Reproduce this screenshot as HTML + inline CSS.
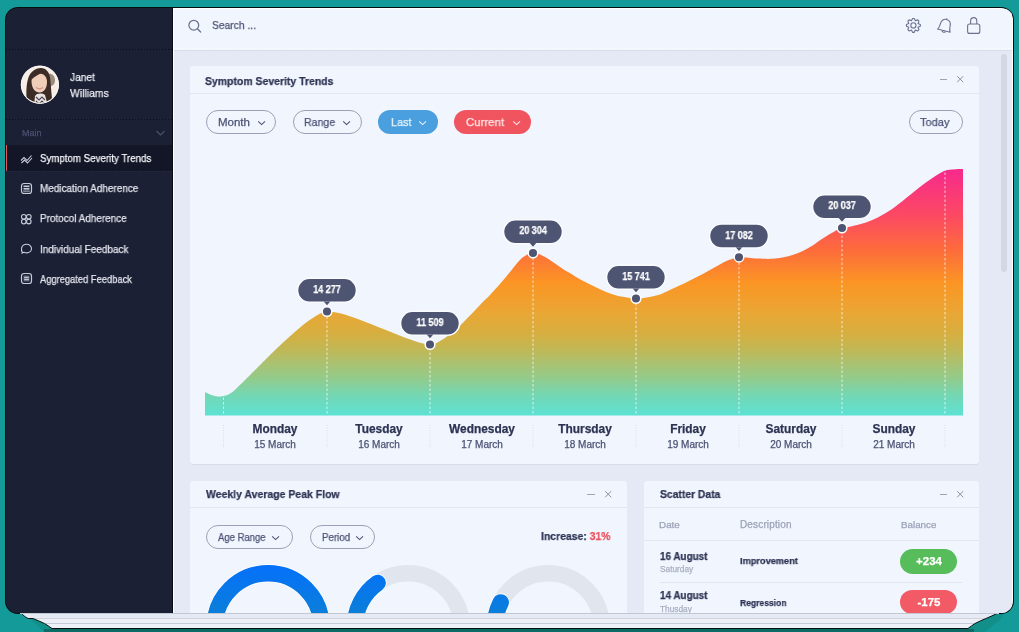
<!DOCTYPE html>
<html><head><meta charset="utf-8"><style>
*{margin:0;padding:0;box-sizing:border-box}
html,body{width:1019px;height:632px;overflow:hidden}
body{background:#149a99;position:relative;font-family:"Liberation Sans",sans-serif}
.t{position:absolute;white-space:nowrap;line-height:1;will-change:transform;-webkit-text-stroke:0.25px currentColor}
.a{position:absolute}
</style></head>
<body>
<svg class="a" style="left:0;top:0" width="1019" height="632"><path d="M22,612 L40,628 L44,632 L985,632 L1000,620 L1005,612 Z" fill="#138f8a"/><rect x="44" y="629" width="930" height="3" fill="#0d6b66"/></svg><svg class="a" style="left:0;top:0" width="1019" height="632"><defs><clipPath id="shc"><path d="M18,606 L18,608 C19,611 20,613 21,613 C23,615 25,617 28,618.5 L33,618.5 C37,620 41,622 44.5,623.5 C47,625 49.5,626.7 52,628.5 L968,628.5 C970.5,626.7 972.5,625 975,623.5 C978.5,621.8 982,620 986,618.5 C990,616.8 994,615 998,613 L1000,606 Z"/></clipPath></defs><g clip-path="url(#shc)"><rect x="0" y="600" width="1019" height="19" fill="#e6eaf4"/><rect x="0" y="618.5" width="1019" height="5" fill="#eceff7"/><rect x="0" y="623.5" width="1019" height="5" fill="#eef1f8"/><rect x="0" y="613" width="1019" height="1" fill="#c3c7d3"/><rect x="0" y="618" width="1019" height="1" fill="#d6d3d6"/><rect x="0" y="623" width="1019" height="1" fill="#c6cad6"/></g><path d="M18,606 L18,608 C19,611 20,613 21,613 C23,615 25,617 28,618.5 L33,618.5 C37,620 41,622 44.5,623.5 C47,625 49.5,626.7 52,628.5 L968,628.5 C970.5,626.7 972.5,625 975,623.5 C978.5,621.8 982,620 986,618.5 C990,616.8 994,615 998,613 L1000,606 Z" fill="none" stroke="#061212" stroke-width="1"/></svg><div class="a" style="left:5px;top:7px;width:1009px;height:607px;border-radius:13px;background:#050f10;overflow:hidden"></div><div class="a" style="left:6px;top:8px;width:1007px;height:605px;border-radius:12px;overflow:hidden"><div class="a" style="left:-6px;top:-8px;width:1019px;height:632px"><div class="a" style="left:173px;top:8px;width:840px;height:606px;background:#ffffff"></div><div class="a" style="left:174px;top:9px;width:838px;height:605px;background:#e4e9f5"></div><div class="a" style="left:174px;top:9px;width:838px;height:42px;background:#f0f5fe;border-bottom:1px solid #d8dde8"></div><div class="a" style="left:174px;top:48px;width:838px;height:1px;background:repeating-linear-gradient(90deg,#ffffff 0 1.5px,transparent 1.5px 3px)"></div><div class="a" style="left:6px;top:8px;width:166.5px;height:606px;background:#1c2034;border-right:1.5px solid #080a14"></div><div class="a" style="left:6px;top:49px;width:166px;height:1px;background:repeating-linear-gradient(90deg,#0b0e18 0 1.5px,transparent 1.5px 3px)"></div><div class="a" style="left:6px;top:119px;width:166px;height:1px;background:repeating-linear-gradient(90deg,#0b0e18 0 1.5px,transparent 1.5px 3px)"></div><div class="a" style="left:6px;top:145px;width:166px;height:26px;background:#131627"></div><div class="a" style="left:6px;top:171px;width:166px;height:1px;background:repeating-linear-gradient(90deg,#2a2f45 0 1.5px,transparent 1.5px 3px)"></div><div class="a" style="left:5px;top:145px;width:2px;height:26px;background:#e8525a"></div><svg class="a" style="left:18px;top:63px" width="44" height="44" viewBox="18 63 44 44">
<defs><clipPath id="av"><circle cx="39.9" cy="84.7" r="18.3"/></clipPath></defs>
<circle cx="39.9" cy="84.7" r="19" fill="#f8f3ee"/>
<g clip-path="url(#av)">
<rect x="18" y="63" width="44" height="44" fill="#f7efe7"/>
<path d="M48,74 C52,73 55,76 55,80 C55,84 53,86 50,86 Z" fill="#9c8c7c"/>
<path d="M27,106 C26,95 26,86 28,79 C30,72 35,68 41,68 C46,68 49,72 50,77 C51,84 51,92 53,106 Z" fill="#3d2b25"/>
<path d="M31.5,81 C31.5,76 35,73.5 39.5,73.5 C44,73.5 47,77 47,82 C47,88 44,92.5 39.5,92.5 C35,92.5 31.5,88 31.5,81 Z" fill="#f0cdb8"/>
<path d="M31,80 C32,74 37,71 43,72 C40,74 35,76 31,80 Z" fill="#3d2b25"/>
<path d="M34,106 L35,96 C37,93 42,93 45,95 L48,106 Z" fill="#e9e4e2"/>
<path d="M36,97 L39,100 L42,97 L45,100 M36,101 L39,104 L42,101 L45,104" stroke="#4b4450" stroke-width="1.1" fill="none"/>
<path d="M36,87.5 C38,89 41,89 43,87.5" stroke="#d98f8a" stroke-width="1.3" fill="none"/>
</g>
<circle cx="39.9" cy="84.7" r="18.6" fill="none" stroke="#f9f5f2" stroke-width="1"/>
</svg><div class="t" style="left:70.4px;top:72.00px;font-size:11.3px;color:#eceef4;transform:scaleX(0.9);transform-origin:0 0;">Janet</div>
<div class="t" style="left:70.4px;top:88.00px;font-size:11.3px;color:#eceef4;transform:scaleX(0.92);transform-origin:0 0;">Williams</div>
<div class="t" style="left:21.7px;top:129.00px;font-size:9px;color:#4b5070;">Main</div>
<svg class="a" style="left:155px;top:129px" width="11" height="8"><path d="M1.5,2 L5.5,6 L9.5,2" stroke="#4b5070" stroke-width="1.1" fill="none"/></svg><div class="t" style="left:40.0px;top:153.00px;font-size:10.8px;color:#f6f7fb;transform:scaleX(0.9);transform-origin:0 0;">Symptom Severity Trends</div>
<div class="t" style="left:40.0px;top:183.00px;font-size:10.8px;color:#e4e6ee;transform:scaleX(0.92);transform-origin:0 0;">Medication Adherence</div>
<div class="t" style="left:40.0px;top:213.00px;font-size:10.8px;color:#e4e6ee;transform:scaleX(0.92);transform-origin:0 0;">Protocol Adherence</div>
<div class="t" style="left:40.0px;top:244.00px;font-size:10.8px;color:#e4e6ee;transform:scaleX(0.92);transform-origin:0 0;">Individual Feedback</div>
<div class="t" style="left:40.0px;top:274.00px;font-size:10.8px;color:#e4e6ee;transform:scaleX(0.865);transform-origin:0 0;">Aggregated Feedback</div>
<svg class="a" style="left:20px;top:153px" width="13" height="11"><path d="M1,7.5 L4,4.5 L7,7.5 L11.5,2.5" stroke="#c9ccd8" stroke-width="1.1" fill="none"/><path d="M1.5,10 L4.5,7 L7.5,10 L12,5" stroke="#c9ccd8" stroke-width="1.1" fill="none"/></svg><svg class="a" style="left:20px;top:182px" width="13" height="13"><rect x="1.5" y="1.5" width="10" height="10" rx="2.5" fill="none" stroke="#c9ccd8" stroke-width="1.2"/><rect x="3.5" y="3.5" width="6" height="1.6" fill="#c9ccd8"/><rect x="3.5" y="6" width="6" height="1.6" fill="#c9ccd8"/><rect x="3.2" y="8.3" width="6.6" height="2" fill="#7b7f94"/></svg><svg class="a" style="left:20px;top:213px" width="13" height="12"><circle cx="3.8" cy="3.8" r="2.3" fill="none" stroke="#c9ccd8" stroke-width="1.1"/><circle cx="8.8" cy="3.8" r="2.3" fill="none" stroke="#c9ccd8" stroke-width="1.1"/><circle cx="3.8" cy="8.6" r="2.3" fill="none" stroke="#c9ccd8" stroke-width="1.1"/><circle cx="8.8" cy="8.6" r="2.3" fill="none" stroke="#c9ccd8" stroke-width="1.1"/></svg><svg class="a" style="left:20px;top:243px" width="13" height="12"><path d="M2.6,9.8 C1.4,8.5 1.3,6.5 1.6,5 C2.2,2.7 4.4,1.3 6.7,1.3 C9.4,1.3 11.5,3.3 11.5,5.6 C11.5,8 9.3,9.9 6.7,9.9 C5.7,9.9 4.8,9.7 4,9.3 L1.8,10.3 Z" fill="none" stroke="#c9ccd8" stroke-width="1.1" stroke-linejoin="round"/></svg><svg class="a" style="left:20px;top:272px" width="13" height="13"><rect x="1.5" y="1.5" width="10" height="10" rx="2.5" fill="none" stroke="#c9ccd8" stroke-width="1.2"/><rect x="3.6" y="3.6" width="5.8" height="5.8" fill="#6f7388"/><rect x="4.2" y="5" width="4.6" height="0.9" fill="#c9ccd8"/><rect x="4.2" y="7" width="4.6" height="0.9" fill="#c9ccd8"/></svg><svg class="a" style="left:186px;top:18px" width="18" height="18"><circle cx="7.8" cy="7.2" r="4.9" fill="none" stroke="#6c728e" stroke-width="1.25"/><path d="M11.4,10.8 L14.6,14" stroke="#6c728e" stroke-width="1.3" stroke-linecap="round"/></svg><div class="t" style="left:212.2px;top:20.00px;font-size:11.3px;color:#4c5273;transform:scaleX(0.91);transform-origin:0 0;">Search ...</div>
<svg class="a" style="left:904px;top:16px" width="20" height="20"><path d="M7.49,4.78 L8.52,2.46 L10.28,2.46 L11.31,4.78 L13.69,3.87 L14.93,5.11 L14.02,7.49 L16.34,8.52 L16.34,10.28 L14.02,11.31 L14.93,13.69 L13.69,14.93 L11.31,14.02 L10.28,16.34 L8.52,16.34 L7.49,14.02 L5.11,14.93 L3.87,13.69 L4.78,11.31 L2.46,10.28 L2.46,8.52 L4.78,7.49 L3.87,5.11 L5.11,3.87Z" fill="none" stroke="#6c728e" stroke-width="1.1" stroke-linejoin="round"/><circle cx="9.4" cy="9.4" r="2.6" fill="none" stroke="#6c728e" stroke-width="1.1"/></svg><svg class="a" style="left:935px;top:15.5px" width="20" height="20"><g transform="rotate(14 10 10)"><path d="M3.5,14.8 C4.8,13.2 5,11.5 5,9 C5,5.3 7,3.3 10,3.3 C13,3.3 15,5.3 15,9 C15,11.5 15.2,13.2 16.5,14.8 Z" fill="none" stroke="#6c728e" stroke-width="1.1" stroke-linejoin="round"/><path d="M8.3,15.2 C8.5,16.8 11.5,16.8 11.7,15.2" fill="none" stroke="#6c728e" stroke-width="1.1"/><path d="M10,2.2 L10,3.3" stroke="#6c728e" stroke-width="1.1"/></g></svg><svg class="a" style="left:965px;top:15px" width="18" height="20"><path d="M5.6,9 L5.6,6.2 C5.6,4.1 7,2.6 8.7,2.6 C10.4,2.6 11.8,4.1 11.8,6.2 L11.8,9" fill="none" stroke="#6c728e" stroke-width="1.1"/><rect x="2.6" y="9" width="12.2" height="9.4" rx="2" fill="none" stroke="#6c728e" stroke-width="1.1"/></svg><div class="a" style="left:1001px;top:54px;width:6px;height:218px;border-radius:3px;background:#d3d8e3"></div><div class="a" style="left:190px;top:66px;width:789px;height:398px;background:#f0f5fe;border-radius:3px;box-shadow:0 1px 0 #d7dce8"></div><div class="a" style="left:190px;top:93px;width:789px;height:1px;background:#e1e6f0"></div><div class="t" style="left:204.6px;top:76.00px;font-size:11.3px;color:#2d3352;transform:scaleX(0.925);transform-origin:0 0;font-weight:700;">Symptom Severity Trends</div>
<div class="a" style="left:939.5px;top:79px;width:7.5px;height:1px;background:#9ea3b6"></div><svg class="a" style="left:956px;top:75px" width="9" height="9"><path d="M1.2,1.2 L7.2,7.2 M7.2,1.2 L1.2,7.2" stroke="#8b91a6" stroke-width="1"/></svg><div class="a" style="left:205.5px;top:110px;width:70.5px;height:24px;border-radius:12px;border:1px solid #9ba1b6;"></div><div class="t" style="left:217.7px;top:117.00px;font-size:11.5px;color:#4c5273;">Month</div>
<svg class="a" style="left:256.5px;top:119.5px" width="10" height="7"><path d="M1.2,1.3 L4.6,4.6 L8,1.3" stroke="#4c5273" stroke-width="1.1" fill="none"/></svg><div class="a" style="left:292.8px;top:110px;width:69.19999999999999px;height:24px;border-radius:12px;border:1px solid #9ba1b6;"></div><div class="t" style="left:303.8px;top:117.00px;font-size:11.5px;color:#4c5273;transform:scaleX(0.92);transform-origin:0 0;">Range</div>
<svg class="a" style="left:341.7px;top:119.5px" width="10" height="7"><path d="M1.2,1.3 L4.6,4.6 L8,1.3" stroke="#4c5273" stroke-width="1.1" fill="none"/></svg><div class="a" style="left:378.3px;top:110px;width:59.39999999999998px;height:24px;border-radius:12px;background:#4a9fde;"></div><div class="t" style="left:390.7px;top:117.00px;font-size:11.5px;color:#e8f2fb;transform:scaleX(0.94);transform-origin:0 0;">Last</div>
<svg class="a" style="left:417.5px;top:119.5px" width="10" height="7"><path d="M1.2,1.3 L4.6,4.6 L8,1.3" stroke="#e8f2fb" stroke-width="1.1" fill="none"/></svg><div class="a" style="left:454.3px;top:110px;width:76.69999999999999px;height:24px;border-radius:12px;background:#f0555f;"></div><div class="t" style="left:466.3px;top:117.00px;font-size:11.5px;color:#fde9ea;transform:scaleX(0.99);transform-origin:0 0;">Current</div>
<svg class="a" style="left:511.5px;top:119.5px" width="10" height="7"><path d="M1.2,1.3 L4.6,4.6 L8,1.3" stroke="#fde9ea" stroke-width="1.1" fill="none"/></svg><div class="a" style="left:908.7px;top:110px;width:54.5px;height:24px;border-radius:12px;border:1px solid #9ba1b6;"></div><div class="t" style="left:920.0px;top:117.00px;font-size:11.5px;color:#4c5273;transform:scaleX(0.96);transform-origin:0 0;">Today</div>
<svg class="a" style="left:0;top:0" width="1019" height="632"><defs><linearGradient id="g1" x1="0" y1="170" x2="0" y2="415" gradientUnits="userSpaceOnUse">
<stop offset="0" stop-color="#f72a8c"/>
<stop offset="0.19" stop-color="#fc4a62"/>
<stop offset="0.32" stop-color="#fd6a3c"/>
<stop offset="0.46" stop-color="#fb9524"/>
<stop offset="0.58" stop-color="#eaa634"/>
<stop offset="0.66" stop-color="#d8ae3e"/>
<stop offset="0.72" stop-color="#c6b550"/>
<stop offset="0.78" stop-color="#aec06c"/>
<stop offset="0.85" stop-color="#93cb8c"/>
<stop offset="0.92" stop-color="#74d7b4"/>
<stop offset="1" stop-color="#5de2d3"/>
</linearGradient><clipPath id="areaclip"><path d="M205,392 C206.3,392.6 210.3,394.8 213,395.5 C215.7,396.2 218.0,396.9 221,396.5 C224.0,396.1 227.7,395.1 231,393 C234.3,390.9 237.6,387.2 241,384 C244.4,380.8 248.0,377.0 251.5,373.5 C255.0,370.0 258.6,366.4 262,363 C265.4,359.6 268.7,356.2 272,353 C275.3,349.8 278.6,346.7 282,343.5 C285.4,340.3 289.0,337.1 292.5,334 C296.0,330.9 299.2,327.9 303,325 C306.8,322.1 311.0,318.8 315,316.5 C319.0,314.2 322.7,312.0 327,311.5 C331.3,311.0 335.3,312.2 341,313.6 C346.7,315.1 354.2,317.7 361,320.2 C367.8,322.7 375.2,325.7 382,328.4 C388.8,331.1 395.8,334.2 402,336.6 C408.2,339.0 414.3,341.2 419,342.5 C423.7,343.8 427.2,344.4 430,344.5 C432.8,344.6 433.2,344.5 436,343.2 C438.8,341.9 443.3,339.1 447,336.5 C450.7,333.9 454.3,330.9 458,327.6 C461.7,324.3 465.3,320.4 469,316.6 C472.7,312.8 476.5,308.5 480,304.9 C483.5,301.3 486.8,298.4 490,295 C493.2,291.6 496.3,288.2 499.5,284.6 C502.7,281.0 505.8,277.1 509,273.2 C512.2,269.3 515.9,264.2 518.5,261.4 C521.1,258.6 522.1,257.7 524.5,256.2 C526.9,254.7 530.0,252.7 533,252.6 C536.0,252.5 539.2,254.1 542.5,255.7 C545.8,257.2 549.4,259.7 552.8,261.9 C556.2,264.1 559.6,266.8 563,269 C566.4,271.2 570.6,273.5 573.4,275.2 C576.2,276.9 577.2,277.8 580,279.3 C582.8,280.9 586.9,282.8 590.3,284.5 C593.7,286.2 597.2,288.1 600.6,289.6 C604.0,291.1 607.4,292.5 610.8,293.7 C614.2,294.9 616.8,295.8 621,296.6 C625.2,297.4 631.5,298.4 636,298.5 C640.5,298.6 644.0,297.9 648,297.2 C652.0,296.5 656.4,295.7 660,294.5 C663.6,293.3 666.5,291.5 669.8,290 C673.1,288.5 676.3,287.2 679.6,285.6 C682.9,284.1 686.1,282.3 689.4,280.7 C692.7,279.1 696.0,277.5 699.3,275.8 C702.6,274.1 705.7,272.2 709,270.4 C712.3,268.6 715.6,266.7 718.9,265 C722.2,263.3 725.4,261.4 728.7,260.1 C732.1,258.8 735.7,257.6 739,257.2 C742.3,256.8 745.1,257.5 748.3,257.7 C751.5,257.9 754.1,258.4 758.1,258.6 C762.1,258.8 768.0,259.0 772,258.8 C776.0,258.6 778.8,258.2 782.2,257.6 C785.6,257.0 789.1,256.2 792.5,255.1 C795.9,254.0 799.4,252.7 802.8,251 C806.2,249.3 809.6,247.4 813,245.2 C816.4,243.0 820.0,240.2 823.4,238 C826.8,235.8 830.5,233.6 833.6,231.9 C836.7,230.2 839.2,229.0 842,228.1 C844.8,227.2 847.5,227.2 850.6,226.5 C853.7,225.8 857.4,225.0 860.8,224 C864.2,223.0 867.7,221.9 871.1,220.5 C874.5,219.1 878.0,217.3 881.4,215.4 C884.8,213.5 888.3,211.5 891.7,209.2 C895.1,206.9 898.6,204.1 902,201.4 C905.4,198.7 908.8,195.9 912.2,193.2 C915.6,190.5 919.1,187.6 922.5,185 C925.9,182.4 929.4,180.0 932.8,177.8 C936.2,175.6 940.3,172.9 943,171.6 C945.7,170.3 947.0,170.2 949.2,169.8 C951.4,169.4 953.7,169.3 956,169.2 C958.3,169.1 961.8,169.1 963,169.1 L963,415.5 L205,415.5 Z"/></clipPath></defs><path d="M205,392 C206.3,392.6 210.3,394.8 213,395.5 C215.7,396.2 218.0,396.9 221,396.5 C224.0,396.1 227.7,395.1 231,393 C234.3,390.9 237.6,387.2 241,384 C244.4,380.8 248.0,377.0 251.5,373.5 C255.0,370.0 258.6,366.4 262,363 C265.4,359.6 268.7,356.2 272,353 C275.3,349.8 278.6,346.7 282,343.5 C285.4,340.3 289.0,337.1 292.5,334 C296.0,330.9 299.2,327.9 303,325 C306.8,322.1 311.0,318.8 315,316.5 C319.0,314.2 322.7,312.0 327,311.5 C331.3,311.0 335.3,312.2 341,313.6 C346.7,315.1 354.2,317.7 361,320.2 C367.8,322.7 375.2,325.7 382,328.4 C388.8,331.1 395.8,334.2 402,336.6 C408.2,339.0 414.3,341.2 419,342.5 C423.7,343.8 427.2,344.4 430,344.5 C432.8,344.6 433.2,344.5 436,343.2 C438.8,341.9 443.3,339.1 447,336.5 C450.7,333.9 454.3,330.9 458,327.6 C461.7,324.3 465.3,320.4 469,316.6 C472.7,312.8 476.5,308.5 480,304.9 C483.5,301.3 486.8,298.4 490,295 C493.2,291.6 496.3,288.2 499.5,284.6 C502.7,281.0 505.8,277.1 509,273.2 C512.2,269.3 515.9,264.2 518.5,261.4 C521.1,258.6 522.1,257.7 524.5,256.2 C526.9,254.7 530.0,252.7 533,252.6 C536.0,252.5 539.2,254.1 542.5,255.7 C545.8,257.2 549.4,259.7 552.8,261.9 C556.2,264.1 559.6,266.8 563,269 C566.4,271.2 570.6,273.5 573.4,275.2 C576.2,276.9 577.2,277.8 580,279.3 C582.8,280.9 586.9,282.8 590.3,284.5 C593.7,286.2 597.2,288.1 600.6,289.6 C604.0,291.1 607.4,292.5 610.8,293.7 C614.2,294.9 616.8,295.8 621,296.6 C625.2,297.4 631.5,298.4 636,298.5 C640.5,298.6 644.0,297.9 648,297.2 C652.0,296.5 656.4,295.7 660,294.5 C663.6,293.3 666.5,291.5 669.8,290 C673.1,288.5 676.3,287.2 679.6,285.6 C682.9,284.1 686.1,282.3 689.4,280.7 C692.7,279.1 696.0,277.5 699.3,275.8 C702.6,274.1 705.7,272.2 709,270.4 C712.3,268.6 715.6,266.7 718.9,265 C722.2,263.3 725.4,261.4 728.7,260.1 C732.1,258.8 735.7,257.6 739,257.2 C742.3,256.8 745.1,257.5 748.3,257.7 C751.5,257.9 754.1,258.4 758.1,258.6 C762.1,258.8 768.0,259.0 772,258.8 C776.0,258.6 778.8,258.2 782.2,257.6 C785.6,257.0 789.1,256.2 792.5,255.1 C795.9,254.0 799.4,252.7 802.8,251 C806.2,249.3 809.6,247.4 813,245.2 C816.4,243.0 820.0,240.2 823.4,238 C826.8,235.8 830.5,233.6 833.6,231.9 C836.7,230.2 839.2,229.0 842,228.1 C844.8,227.2 847.5,227.2 850.6,226.5 C853.7,225.8 857.4,225.0 860.8,224 C864.2,223.0 867.7,221.9 871.1,220.5 C874.5,219.1 878.0,217.3 881.4,215.4 C884.8,213.5 888.3,211.5 891.7,209.2 C895.1,206.9 898.6,204.1 902,201.4 C905.4,198.7 908.8,195.9 912.2,193.2 C915.6,190.5 919.1,187.6 922.5,185 C925.9,182.4 929.4,180.0 932.8,177.8 C936.2,175.6 940.3,172.9 943,171.6 C945.7,170.3 947.0,170.2 949.2,169.8 C951.4,169.4 953.7,169.3 956,169.2 C958.3,169.1 961.8,169.1 963,169.1 L963,415.5 L205,415.5 Z" fill="url(#g1)"/><line x1="223.5" y1="150" x2="223.5" y2="415" stroke="#ffffff" stroke-opacity="0.3" stroke-width="1" stroke-dasharray="2.5,2"/><line x1="223.5" y1="150" x2="223.5" y2="415" stroke="#ffffff" stroke-opacity="0.5" stroke-width="1" stroke-dasharray="2.5,2" clip-path="url(#areaclip)"/><line x1="223.5" y1="425" x2="223.5" y2="448" stroke="#d9dde7" stroke-width="1" stroke-dasharray="1,1.5"/><line x1="327" y1="150" x2="327" y2="415" stroke="#ffffff" stroke-opacity="0.3" stroke-width="1" stroke-dasharray="2.5,2"/><line x1="327" y1="150" x2="327" y2="415" stroke="#ffffff" stroke-opacity="0.5" stroke-width="1" stroke-dasharray="2.5,2" clip-path="url(#areaclip)"/><line x1="327" y1="425" x2="327" y2="448" stroke="#d9dde7" stroke-width="1" stroke-dasharray="1,1.5"/><line x1="430" y1="150" x2="430" y2="415" stroke="#ffffff" stroke-opacity="0.3" stroke-width="1" stroke-dasharray="2.5,2"/><line x1="430" y1="150" x2="430" y2="415" stroke="#ffffff" stroke-opacity="0.5" stroke-width="1" stroke-dasharray="2.5,2" clip-path="url(#areaclip)"/><line x1="430" y1="425" x2="430" y2="448" stroke="#d9dde7" stroke-width="1" stroke-dasharray="1,1.5"/><line x1="533" y1="150" x2="533" y2="415" stroke="#ffffff" stroke-opacity="0.3" stroke-width="1" stroke-dasharray="2.5,2"/><line x1="533" y1="150" x2="533" y2="415" stroke="#ffffff" stroke-opacity="0.5" stroke-width="1" stroke-dasharray="2.5,2" clip-path="url(#areaclip)"/><line x1="533" y1="425" x2="533" y2="448" stroke="#d9dde7" stroke-width="1" stroke-dasharray="1,1.5"/><line x1="636" y1="150" x2="636" y2="415" stroke="#ffffff" stroke-opacity="0.3" stroke-width="1" stroke-dasharray="2.5,2"/><line x1="636" y1="150" x2="636" y2="415" stroke="#ffffff" stroke-opacity="0.5" stroke-width="1" stroke-dasharray="2.5,2" clip-path="url(#areaclip)"/><line x1="636" y1="425" x2="636" y2="448" stroke="#d9dde7" stroke-width="1" stroke-dasharray="1,1.5"/><line x1="739" y1="150" x2="739" y2="415" stroke="#ffffff" stroke-opacity="0.3" stroke-width="1" stroke-dasharray="2.5,2"/><line x1="739" y1="150" x2="739" y2="415" stroke="#ffffff" stroke-opacity="0.5" stroke-width="1" stroke-dasharray="2.5,2" clip-path="url(#areaclip)"/><line x1="739" y1="425" x2="739" y2="448" stroke="#d9dde7" stroke-width="1" stroke-dasharray="1,1.5"/><line x1="842" y1="150" x2="842" y2="415" stroke="#ffffff" stroke-opacity="0.3" stroke-width="1" stroke-dasharray="2.5,2"/><line x1="842" y1="150" x2="842" y2="415" stroke="#ffffff" stroke-opacity="0.5" stroke-width="1" stroke-dasharray="2.5,2" clip-path="url(#areaclip)"/><line x1="842" y1="425" x2="842" y2="448" stroke="#d9dde7" stroke-width="1" stroke-dasharray="1,1.5"/><line x1="945" y1="150" x2="945" y2="415" stroke="#ffffff" stroke-opacity="0.3" stroke-width="1" stroke-dasharray="2.5,2"/><line x1="945" y1="150" x2="945" y2="415" stroke="#ffffff" stroke-opacity="0.5" stroke-width="1" stroke-dasharray="2.5,2" clip-path="url(#areaclip)"/><line x1="945" y1="425" x2="945" y2="448" stroke="#d9dde7" stroke-width="1" stroke-dasharray="1,1.5"/><path d="M323.7,301.9 L327,305.3 L330.3,301.9 Z" fill="#4e5573" stroke="#fafbff" stroke-width="1.6" stroke-linejoin="round"/><rect x="297.5" y="278.3" width="59" height="24" rx="12" fill="#4e5573" stroke="#fafbff" stroke-width="1.6"/><path d="M323.7,301.5 L327,305.3 L330.3,301.5 Z" fill="#4e5573"/><circle cx="327" cy="311.5" r="4.8" fill="#4e5573" stroke="#ffffff" stroke-width="1.5"/><path d="M426.7,334.9 L430,338.3 L433.3,334.9 Z" fill="#4e5573" stroke="#fafbff" stroke-width="1.6" stroke-linejoin="round"/><rect x="400.5" y="311.3" width="59" height="24" rx="12" fill="#4e5573" stroke="#fafbff" stroke-width="1.6"/><path d="M426.7,334.5 L430,338.3 L433.3,334.5 Z" fill="#4e5573"/><circle cx="430" cy="344.5" r="4.8" fill="#4e5573" stroke="#ffffff" stroke-width="1.5"/><path d="M529.7,243.4 L533,246.8 L536.3,243.4 Z" fill="#4e5573" stroke="#fafbff" stroke-width="1.6" stroke-linejoin="round"/><rect x="503.5" y="219.8" width="59" height="24" rx="12" fill="#4e5573" stroke="#fafbff" stroke-width="1.6"/><path d="M529.7,243 L533,246.8 L536.3,243 Z" fill="#4e5573"/><circle cx="533" cy="253" r="4.8" fill="#4e5573" stroke="#ffffff" stroke-width="1.5"/><path d="M632.7,288.9 L636,292.3 L639.3,288.9 Z" fill="#4e5573" stroke="#fafbff" stroke-width="1.6" stroke-linejoin="round"/><rect x="606.5" y="265.3" width="59" height="24" rx="12" fill="#4e5573" stroke="#fafbff" stroke-width="1.6"/><path d="M632.7,288.5 L636,292.3 L639.3,288.5 Z" fill="#4e5573"/><circle cx="636" cy="298.5" r="4.8" fill="#4e5573" stroke="#ffffff" stroke-width="1.5"/><path d="M735.7,247.6 L739,251.0 L742.3,247.6 Z" fill="#4e5573" stroke="#fafbff" stroke-width="1.6" stroke-linejoin="round"/><rect x="709.5" y="224.0" width="59" height="24" rx="12" fill="#4e5573" stroke="#fafbff" stroke-width="1.6"/><path d="M735.7,247.2 L739,251.0 L742.3,247.2 Z" fill="#4e5573"/><circle cx="739" cy="257.2" r="4.8" fill="#4e5573" stroke="#ffffff" stroke-width="1.5"/><path d="M838.7,218.4 L842,221.8 L845.3,218.4 Z" fill="#4e5573" stroke="#fafbff" stroke-width="1.6" stroke-linejoin="round"/><rect x="812.5" y="194.8" width="59" height="24" rx="12" fill="#4e5573" stroke="#fafbff" stroke-width="1.6"/><path d="M838.7,218 L842,221.8 L845.3,218 Z" fill="#4e5573"/><circle cx="842" cy="228" r="4.8" fill="#4e5573" stroke="#ffffff" stroke-width="1.5"/></svg><div class="t" style="left:227.0px;width:200px;text-align:center;top:285.00px;font-size:10px;color:#ffffff;transform:scaleX(0.9);transform-origin:50% 0;font-weight:700;">14 277</div>
<div class="t" style="left:330.0px;width:200px;text-align:center;top:318.00px;font-size:10px;color:#ffffff;transform:scaleX(0.9);transform-origin:50% 0;font-weight:700;">11 509</div>
<div class="t" style="left:433.0px;width:200px;text-align:center;top:226.00px;font-size:10px;color:#ffffff;transform:scaleX(0.9);transform-origin:50% 0;font-weight:700;">20 304</div>
<div class="t" style="left:536.0px;width:200px;text-align:center;top:272.00px;font-size:10px;color:#ffffff;transform:scaleX(0.9);transform-origin:50% 0;font-weight:700;">15 741</div>
<div class="t" style="left:639.0px;width:200px;text-align:center;top:231.00px;font-size:10px;color:#ffffff;transform:scaleX(0.9);transform-origin:50% 0;font-weight:700;">17 082</div>
<div class="t" style="left:742.0px;width:200px;text-align:center;top:201.00px;font-size:10px;color:#ffffff;transform:scaleX(0.9);transform-origin:50% 0;font-weight:700;">20 037</div>
<div class="t" style="left:175.2px;width:200px;text-align:center;top:424.00px;font-size:11.9px;color:#2d3352;font-weight:700;">Monday</div>
<div class="t" style="left:175.2px;width:200px;text-align:center;top:440.00px;font-size:10px;color:#4c5273;">15 March</div>
<div class="t" style="left:278.5px;width:200px;text-align:center;top:424.00px;font-size:11.9px;color:#2d3352;font-weight:700;">Tuesday</div>
<div class="t" style="left:278.5px;width:200px;text-align:center;top:440.00px;font-size:10px;color:#4c5273;">16 March</div>
<div class="t" style="left:381.5px;width:200px;text-align:center;top:424.00px;font-size:11.9px;color:#2d3352;font-weight:700;">Wednesday</div>
<div class="t" style="left:381.5px;width:200px;text-align:center;top:440.00px;font-size:10px;color:#4c5273;">17 March</div>
<div class="t" style="left:484.5px;width:200px;text-align:center;top:424.00px;font-size:11.9px;color:#2d3352;font-weight:700;">Thursday</div>
<div class="t" style="left:484.5px;width:200px;text-align:center;top:440.00px;font-size:10px;color:#4c5273;">18 March</div>
<div class="t" style="left:587.5px;width:200px;text-align:center;top:424.00px;font-size:11.9px;color:#2d3352;font-weight:700;">Friday</div>
<div class="t" style="left:587.5px;width:200px;text-align:center;top:440.00px;font-size:10px;color:#4c5273;">19 March</div>
<div class="t" style="left:690.5px;width:200px;text-align:center;top:424.00px;font-size:11.9px;color:#2d3352;font-weight:700;">Saturday</div>
<div class="t" style="left:690.5px;width:200px;text-align:center;top:440.00px;font-size:10px;color:#4c5273;">20 March</div>
<div class="t" style="left:793.5px;width:200px;text-align:center;top:424.00px;font-size:11.9px;color:#2d3352;font-weight:700;">Sunday</div>
<div class="t" style="left:793.5px;width:200px;text-align:center;top:440.00px;font-size:10px;color:#4c5273;">21 March</div>
<div class="a" style="left:190px;top:481px;width:437px;height:140px;background:#f0f5fe;border-radius:3px"></div><div class="a" style="left:190px;top:507px;width:437px;height:1px;background:#e1e6f0"></div><div class="t" style="left:206.2px;top:489.00px;font-size:11.4px;color:#2d3352;transform:scaleX(0.92);transform-origin:0 0;font-weight:700;">Weekly Average Peak Flow</div>
<div class="a" style="left:587px;top:494px;width:7.5px;height:1px;background:#9ea3b6"></div><svg class="a" style="left:603.6px;top:490px" width="9" height="9"><path d="M1.2,1.2 L7.2,7.2 M7.2,1.2 L1.2,7.2" stroke="#8b91a6" stroke-width="1"/></svg><div class="a" style="left:205.6px;top:525px;width:87.70000000000002px;height:24px;border-radius:12px;border:1px solid #9ba1b6;"></div><div class="t" style="left:218.0px;top:532.00px;font-size:10.8px;color:#4c5273;transform:scaleX(0.88);transform-origin:0 0;">Age Range</div>
<svg class="a" style="left:271.3px;top:534.5px" width="10" height="7"><path d="M1.2,1.3 L4.6,4.6 L8,1.3" stroke="#4c5273" stroke-width="1.1" fill="none"/></svg><div class="a" style="left:310px;top:525px;width:65.39999999999998px;height:24px;border-radius:12px;border:1px solid #9ba1b6;"></div><div class="t" style="left:321.8px;top:532.00px;font-size:10.8px;color:#4c5273;transform:scaleX(0.9);transform-origin:0 0;">Period</div>
<svg class="a" style="left:354.8px;top:534.5px" width="10" height="7"><path d="M1.2,1.3 L4.6,4.6 L8,1.3" stroke="#4c5273" stroke-width="1.1" fill="none"/></svg><div class="t" style="left:540.9px;top:531.00px;font-size:11.4px;color:#2d3352;transform:scaleX(0.915);transform-origin:0 0;font-weight:700;">Increase: <span style="color:#ee4c57">31%</span></div>
<svg class="a" style="left:0;top:0" width="1019" height="632"><defs><linearGradient id="bl" x1="0" y1="565" x2="0" y2="632" gradientUnits="userSpaceOnUse"><stop offset="0" stop-color="#0570fb"/><stop offset="1" stop-color="#0c84cc"/></linearGradient></defs><circle cx="268.1" cy="626.6" r="53.3" fill="none" stroke="#ffffff" stroke-width="18.1"/><circle cx="268.1" cy="626.6" r="53.3" fill="none" stroke="url(#bl)" stroke-width="16.5"/><circle cx="408.2" cy="626.6" r="53.3" fill="none" stroke="#e1e5ee" stroke-width="16.5"/><path d="M354.9,636.6 L354.9,626.6 A53.3,53.3 0 0 1 377.63,582.94" fill="none" stroke="#ffffff" stroke-width="18.1" stroke-linecap="round"/><path d="M354.9,636.6 L354.9,626.6 A53.3,53.3 0 0 1 377.63,582.94" fill="none" stroke="url(#bl)" stroke-width="16.5" stroke-linecap="round"/><circle cx="548.2" cy="626.6" r="53.3" fill="none" stroke="#e1e5ee" stroke-width="16.5"/><path d="M494.90000000000003,636.6 L494.90000000000003,626.6 A53.3,53.3 0 0 1 500.71,602.40" fill="none" stroke="#ffffff" stroke-width="18.1" stroke-linecap="round"/><path d="M494.90000000000003,636.6 L494.90000000000003,626.6 A53.3,53.3 0 0 1 500.71,602.40" fill="none" stroke="url(#bl)" stroke-width="16.5" stroke-linecap="round"/></svg><div class="a" style="left:643.5px;top:481px;width:335.5px;height:140px;background:#f0f5fe;border-radius:3px"></div><div class="a" style="left:643.5px;top:507px;width:335.5px;height:1px;background:#e1e6f0"></div><div class="a" style="left:643.5px;top:540px;width:335.5px;height:1px;background:#e1e6f0"></div><div class="a" style="left:659.5px;top:581.5px;width:302.5px;height:1px;background:#e1e6f0"></div><div class="t" style="left:659.8px;top:489.00px;font-size:11px;color:#2d3352;transform:scaleX(0.94);transform-origin:0 0;font-weight:700;">Scatter Data</div>
<div class="a" style="left:939.5px;top:494px;width:7.5px;height:1px;background:#9ea3b6"></div><svg class="a" style="left:956px;top:490px" width="9" height="9"><path d="M1.2,1.2 L7.2,7.2 M7.2,1.2 L1.2,7.2" stroke="#8b91a6" stroke-width="1"/></svg><div class="t" style="left:659.4px;top:520.00px;font-size:9.9px;color:#9ca2b6;">Date</div>
<div class="t" style="left:740.3px;top:520.00px;font-size:10px;color:#9ca2b6;letter-spacing:0.15px;">Description</div>
<div class="t" style="left:900.8px;top:520.00px;font-size:9.8px;color:#9ca2b6;">Balance</div>
<div class="t" style="left:660.2px;top:552.00px;font-size:10.3px;color:#2d3352;transform:scaleX(0.96);transform-origin:0 0;font-weight:700;">16 August</div>
<div class="t" style="left:660.2px;top:565.00px;font-size:8.3px;color:#aab0c0;">Saturday</div>
<div class="t" style="left:740.0px;top:556.00px;font-size:9.6px;color:#2d3352;transform:scaleX(0.96);transform-origin:0 0;font-weight:700;">Improvement</div>
<div class="t" style="left:660.2px;top:591.00px;font-size:10.3px;color:#2d3352;transform:scaleX(0.96);transform-origin:0 0;font-weight:700;">14 August</div>
<div class="t" style="left:660.2px;top:605.00px;font-size:8.3px;color:#aab0c0;">Thusday</div>
<div class="t" style="left:740.0px;top:598.00px;font-size:9.6px;color:#2d3352;transform:scaleX(0.89);transform-origin:0 0;font-weight:700;">Regression</div>
<div class="a" style="left:900.3px;top:549px;width:56.5px;height:24.5px;border-radius:12.5px;background:#56bd5a"></div><div class="t" style="left:828.5px;width:200px;text-align:center;top:556.00px;font-size:11.5px;color:#ffffff;font-weight:700;">+234</div>
<div class="a" style="left:900.3px;top:589.8px;width:56.5px;height:24.5px;border-radius:12.5px;background:#f25a65"></div><div class="t" style="left:828.5px;width:200px;text-align:center;top:597.00px;font-size:11.5px;color:#ffffff;font-weight:700;">-175</div>
</div></div><div class="a" style="left:20px;top:613px;width:979px;height:1px;background:#c3c7d3"></div>
</body></html>
